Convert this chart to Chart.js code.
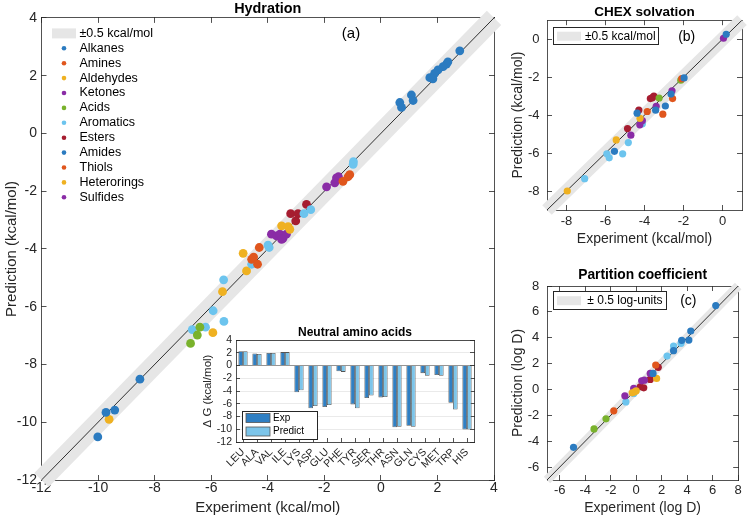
<!DOCTYPE html>
<html>
<head>
<meta charset="utf-8">
<script src="https://cdn.jsdelivr.net/npm/chart.js@4.4.0/dist/chart.umd.min.js"></script>
<style>
    html, body { margin: 0; padding: 0; background: #ffffff; }
    #wrap { position: relative; width: 749px; height: 519px; overflow: hidden; }
    canvas { position: absolute; }
</style>
</head>
<body>
<div id="wrap">
    <canvas id="hydration-chart" width="505" height="519" style="left:0;top:0"></canvas>
    <canvas id="amino-chart" width="290" height="160" style="left:196px;top:322px"></canvas>
    <canvas id="chex-chart" width="244" height="250" style="left:505px;top:0"></canvas>
    <canvas id="partition-chart" width="244" height="254" style="left:505px;top:265px"></canvas>
</div>
<script>
// (a) hydration free energy, kcal/mol : [experiment, prediction]
const hyd_alkanes = [[2.79, 2.86], [2.37, 2.48], [2.32, 2.40], [2.20, 2.31], [2.02, 2.20], [1.90, 2.08], [1.73, 1.93], [1.84, 1.89], [1.08, 1.33], [1.14, 1.14], [0.67, 1.07], [0.73, 0.90]]
const hyd_amines = [[-4.30, -3.95], [-4.57, -4.36], [-4.50, -4.28], [-4.36, -4.53]]
const hyd_aldehydes = [[-3.51, -3.20], [-3.28, -3.23], [-3.22, -3.32]]
const hyd_ketones = [[-3.87, -3.49], [-3.69, -3.55], [-3.57, -3.49], [-3.46, -3.63], [-3.34, -3.49], [-3.51, -3.67]]
const hyd_acids = [[-6.40, -6.71], [-6.49, -6.98], [-6.73, -7.27]]
const hyd_aromatics = [[-0.97, -0.98], [-0.98, -1.07], [-2.48, -2.64], [-2.72, -2.78], [-3.95, -3.95], [-3.99, -3.87], [-4.57, -4.53], [-5.56, -5.07], [-5.93, -6.14], [-5.55, -6.51], [-6.67, -6.79], [-6.20, -6.71]]
const hyd_esters = [[-2.63, -2.46], [-3.19, -2.78], [-2.93, -2.78], [-3.01, -3.03]]
const hyd_amides = [[-8.52, -8.51], [-9.72, -9.66], [-9.41, -9.58], [-10.01, -10.51]]
const hyd_thiols = [[-1.10, -1.43], [-1.16, -1.50], [-1.34, -1.66]]
const hyd_heterorings = [[-4.87, -4.15], [-4.75, -4.76], [-5.60, -5.48], [-5.94, -6.90], [-9.61, -9.90]]
const hyd_sulfides = [[-1.50, -1.50], [-1.57, -1.54], [-1.63, -1.71], [-1.92, -1.85]]
const hyd_labels = ['Alkanes', 'Amines', 'Aldehydes', 'Ketones', 'Acids', 'Aromatics', 'Esters', 'Amides', 'Thiols', 'Heterorings', 'Sulfides']
const hyd_series = [hyd_alkanes, hyd_amines, hyd_aldehydes, hyd_ketones, hyd_acids, hyd_aromatics, hyd_esters, hyd_amides, hyd_thiols, hyd_heterorings, hyd_sulfides]
const hyd_range = [-12, 4]
const hyd_ticks = [-12, -10, -8, -6, -4, -2, 0, 2, 4]

// inset: neutral amino acids, kcal/mol
const amino_labels = ['LEU', 'ALA', 'VAL', 'ILE', 'LYS', 'ASP', 'GLU', 'PHE', 'TYR', 'SER', 'THR', 'ASN', 'GLN', 'CYS', 'MET', 'TRP', 'HIS']
const amino_exp = [2.25, 1.9, 1.95, 2.1, -4.2, -6.7, -6.5, -0.9, -6.1, -5.1, -5.0, -9.7, -9.45, -1.2, -1.5, -5.85, -10.05]
const amino_pred = [2.25, 1.8, 1.95, 2.1, -3.9, -6.35, -6.2, -1.0, -6.7, -4.7, -4.95, -9.6, -9.6, -1.6, -1.6, -6.9, -10.05]
const amino_ticks = [-12, -10, -8, -6, -4, -2, 0, 2, 4]

// (b) CHEX solvation, grouped by marker colour
const chex_blue = [[0.19, 0.26], [-1.97, -2.04], [-2.64, -2.89], [-3.43, -3.74], [-2.93, -3.52], [-4.38, -3.90], [-5.54, -5.91]]
const chex_orange = [[-2.09, -2.08], [-2.56, -3.13], [-3.06, -3.95], [-3.86, -3.81]]
const chex_yellow = [[-4.23, -4.17], [-5.45, -5.31], [-7.96, -8.00]]
const chex_purple = [[0.05, 0.05], [-2.59, -2.72], [-3.40, -3.54], [-4.11, -4.29], [-4.24, -4.51], [-4.70, -5.06]]
const chex_green = [[-2.14, -2.16], [-3.25, -3.10]]
const chex_lightblue = [[-4.11, -4.46], [-4.83, -5.45], [-5.93, -6.04], [-5.81, -6.25], [-5.12, -6.04], [-7.07, -7.35]]
const chex_darkred = [[-3.70, -3.13], [-3.52, -3.00], [-3.60, -3.08], [-4.29, -3.73], [-4.87, -4.71]]
const chex_series = [chex_blue, chex_orange, chex_yellow, chex_purple, chex_green, chex_lightblue, chex_darkred]
const chex_range = [-9, 1]
const chex_ticks = [-8, -6, -4, -2, 0]

// (c) partition coefficient, log D
const part_blue = [[6.24, 6.49], [4.28, 4.52], [4.13, 3.82], [3.57, 3.80], [2.93, 3.00], [1.32, 1.24], [-4.92, -4.47]]
const part_orange = [[1.53, 1.89], [-1.76, -1.65]]
const part_yellow = [[1.60, 0.85], [0.00, -0.10], [-0.13, -0.18], [-0.31, -0.26]]
const part_purple = [[1.10, 1.24], [0.43, 0.67], [0.64, 0.72], [-0.20, 0.08], [-0.89, -0.49]]
const part_green = [[-2.37, -2.27], [-3.31, -3.05]]
const part_lightblue = [[3.52, 3.57], [2.93, 3.36], [2.42, 2.58], [-0.20, -0.31], [-0.81, -0.96]]
const part_darkred = [[1.73, 1.71], [1.10, 0.78], [0.31, 0.21], [0.59, 0.13]]
const part_series = [part_blue, part_orange, part_yellow, part_purple, part_green, part_lightblue, part_darkred]
const part_range = [-7, 8]
const part_ticks = [-6, -4, -2, 0, 2, 4, 6, 8]

const band_half = 0.5

const font_family = '"Liberation Sans", Arial, Helvetica, sans-serif'
const axis_color = '#262626'
const band_color = '#e6e6e6'
const palette = ['#2b7bc0', '#e0561d', '#efb121', '#8a2ca6', '#79b22c', '#6cc4ee', '#a61d30']
const exp_color = '#2f7fc3'
const pred_color = '#7cc5ea'

Chart.defaults.font.family = font_family
Chart.defaults.color = axis_color

const to_points = (pairs) => pairs.map(p => ({x: p[0], y: p[1]}))
const set_ticks = (vals) => (scale) => { scale.ticks = vals.map(v => ({value: v})) }

const band_width = (c) => {
    const sx = c.chart.scales.x
    const sy = c.chart.scales.y
    const dx = Math.abs(sx.getPixelForValue(1) - sx.getPixelForValue(0))
    const dy = Math.abs(sy.getPixelForValue(1) - sy.getPixelForValue(0))
    const w = 2 * band_half * dx * dy / Math.hypot(dx, dy)
    return isFinite(w) ? w : 10
}

const diag_sets = (range, band_label) => [
    {
        label: band_label, legend: 'band', data: to_points([[range[0], range[0]], [range[1], range[1]]]),
        showLine: true, borderColor: band_color, borderWidth: band_width, borderCapStyle: 'butt',
        pointRadius: 0, clip: false, order: 2
    },
    {
        label: 'diag', data: to_points([[range[0], range[0]], [range[1], range[1]]]),
        showLine: true, borderColor: '#000000', borderWidth: 0.8, pointRadius: 0, order: 1
    }
]

const box_axes = (range, tick_vals, cfg) => {
    const edge = (pos, size) => ({
        type: 'linear', position: pos, min: range[0], max: range[1], z: 1,
        afterBuildTicks: set_ticks(tick_vals),
        afterFit: (s) => {
            if (s.isHorizontal()) s.height = size
            else s.width = size
        },
        grid: {drawOnChartArea: false, tickLength: -5, color: axis_color, lineWidth: 0.8},
        border: {color: axis_color, width: 0.8},
        ticks: {display: false}
    })
    const x = edge('bottom', cfg.xh)
    x.ticks = {font: {size: cfg.tick}, padding: cfg.xpad, color: axis_color, maxRotation: 0, autoSkip: false}
    x.title = {display: true, text: cfg.xtitle, color: axis_color, font: {size: cfg.label}, padding: {top: 0, bottom: cfg.xtp}}
    const y = edge('left', cfg.yw)
    y.ticks = {font: {size: cfg.tick}, padding: cfg.ypad, color: axis_color, autoSkip: false}
    y.title = {display: true, text: cfg.ytitle, color: axis_color, font: {size: cfg.label}, padding: {top: cfg.ytp, bottom: 0}}
    return {x: x, y: y, x2: edge('top', 0), y2: edge('right', 0)}
}

// legend drawn inside the plot area, MATLAB style
const legend_box = (id, cfg) => ({
    id: id,
    afterDatasetsDraw: (chart) => {
        const ctx = chart.ctx
        const area = chart.chartArea
        const bx = area.left + cfg.x
        const by = area.top + cfg.y
        ctx.save()
        if (cfg.w) {
            ctx.fillStyle = '#ffffff'
            ctx.fillRect(bx, by, cfg.w, cfg.h)
            ctx.strokeStyle = axis_color
            ctx.lineWidth = 1
            ctx.strokeRect(Math.round(bx) + 0.5, Math.round(by) + 0.5, cfg.w, cfg.h)
        }
        ctx.font = cfg.font + 'px ' + font_family
        ctx.textBaseline = 'middle'
        ctx.textAlign = 'left'
        let row = 0
        chart.data.datasets.forEach(ds => {
            if (!ds.legend) return
            const cy = by + cfg.row0 + row * cfg.dy
            const sx = bx + cfg.sx
            if (ds.legend === 'dot') {
                ctx.fillStyle = ds.backgroundColor
                ctx.beginPath()
                ctx.arc(sx + cfg.sw / 2, cy, 2.3, 0, Math.PI * 2)
                ctx.fill()
            } else if (ds.legend === 'bar') {
                ctx.fillStyle = ds.backgroundColor
                ctx.fillRect(sx, cy - cfg.sh / 2, cfg.sw, cfg.sh)
                ctx.strokeStyle = ds.borderColor
                ctx.lineWidth = 0.8
                ctx.strokeRect(sx, cy - cfg.sh / 2, cfg.sw, cfg.sh)
            } else {
                ctx.fillStyle = ds.borderColor
                ctx.fillRect(sx, cy - cfg.sh / 2, cfg.sw, cfg.sh)
            }
            ctx.fillStyle = '#000000'
            ctx.fillText(ds.label, bx + cfg.tx, cy)
            row++
        })
        if (cfg.tag) {
            ctx.font = cfg.tagFont + 'px ' + font_family
            ctx.textAlign = 'center'
            ctx.fillText(cfg.tag, area.left + cfg.tagX, area.top + cfg.tagY)
        }
        ctx.restore()
    }
})

const title_opts = (text, size, top, bottom) => ({
    display: true, text: text, color: '#000000', fullSize: false,
    font: {size: size, weight: 'bold', lineHeight: 1},
    padding: {top: top, bottom: bottom}
})

const scatter_chart = (canvas_id, sets, range, tick_vals, cfg, title, legend) => {
    return new Chart(document.getElementById(canvas_id), {
        type: 'scatter',
        data: {datasets: sets},
        options: {
            responsive: false,
            animation: false,
            events: [],
            layout: {padding: {left: 0, right: cfg.right, top: 0, bottom: 0}},
            scales: box_axes(range, tick_vals, cfg),
            plugins: {
                legend: {display: false},
                tooltip: {enabled: false},
                title: title
            }
        },
        plugins: [legend]
    })
}

// (a) Hydration
const hyd_sets = diag_sets(hyd_range, '\u00b10.5 kcal/mol').concat(hyd_labels.map((name, i) => ({
    label: name, legend: 'dot', data: to_points(hyd_series[i]),
    backgroundColor: palette[i % palette.length], borderWidth: 0, pointRadius: 4.4, order: 0
})))
scatter_chart('hydration-chart', hyd_sets, hyd_range, hyd_ticks,
    {xh: 39, yw: 41.5, tick: 14, label: 15, xpad: 5, ypad: 9.5, xtp: 2, ytp: 3, right: 11,
        xtitle: 'Experiment (kcal/mol)', ytitle: 'Prediction (kcal/mol)'},
    title_opts('Hydration', 14.4, 0, 1.6),
    legend_box('hyd-legend', {x: 10.5, y: 8, sx: 0, sw: 24, sh: 10, row0: 7.5, dy: 14.9, tx: 27.5, font: 12.5,
        tag: '(a)', tagFont: 15, tagX: 309.5, tagY: 15.5}))

// (b) CHEX solvation
const chex_sets = diag_sets(chex_range, '\u00b10.5 kcal/mol').concat(chex_series.map((s, i) => ({
    label: 'g' + i, data: to_points(s), backgroundColor: palette[i], borderWidth: 0, pointRadius: 3.6, order: 0
})))
scatter_chart('chex-chart', chex_sets, chex_range, chex_ticks,
    {xh: 40, yw: 42, tick: 13, label: 14, xpad: 8.7, ypad: 12.4, xtp: 2.6, ytp: 4.6, right: 7,
        xtitle: 'Experiment (kcal/mol)', ytitle: 'Prediction (kcal/mol)'},
    title_opts('CHEX solvation', 13.5, 0, 1.5),
    legend_box('chex-legend', {x: 6, y: 7, w: 105, h: 17, sx: 4, sw: 24, sh: 9, row0: 9, dy: 0, tx: 32, font: 12,
        tag: '(b)', tagFont: 14, tagX: 139.7, tagY: 17.2}))

// (c) Partition coefficient
const part_sets = diag_sets(part_range, '\u00b1 0.5 log-units').concat(part_series.map((s, i) => ({
    label: 'g' + i, data: to_points(s), backgroundColor: palette[i], borderWidth: 0, pointRadius: 3.6, order: 0
})))
scatter_chart('partition-chart', part_sets, part_range, part_ticks,
    {xh: 39, yw: 42, tick: 13, label: 14, xpad: 7.2, ypad: 12.7, xtp: 2.6, ytp: 4.9, right: 7,
        xtitle: 'Experiment (log D)', ytitle: 'Prediction (log D)'},
    title_opts('Partition coefficient', 13.8, 3.2, 4),
    legend_box('part-legend', {x: 6, y: 5, w: 113, h: 18, sx: 4, sw: 24, sh: 9, row0: 9.7, dy: 0, tx: 34.3, font: 12,
        tag: '(c)', tagFont: 14, tagX: 141.3, tagY: 15.3}))

// inset bar chart
new Chart(document.getElementById('amino-chart'), {
    type: 'bar',
    data: {
        labels: amino_labels,
        datasets: [
            {label: 'Exp', legend: 'bar', data: amino_exp, backgroundColor: exp_color, borderColor: '#555555', borderWidth: 0.8},
            {label: 'Predict', legend: 'bar', data: amino_pred, backgroundColor: pred_color, borderColor: '#555555', borderWidth: 0.8}
        ]
    },
    options: {
        responsive: false,
        animation: false,
        events: [],
        categoryPercentage: 0.66,
        barPercentage: 1.0,
        layout: {padding: {left: 0, right: 12, top: 0, bottom: 0}},
        scales: {
            x: {
                position: 'bottom',
                afterFit: (s) => { s.height = 40 },
                grid: {offset: false, drawOnChartArea: false, tickLength: -4, color: axis_color, lineWidth: 0.8},
                border: {color: axis_color, width: 0.8},
                ticks: {font: {size: 10.5}, color: axis_color, maxRotation: 45, minRotation: 45, padding: 8, autoSkip: false}
            },
            x2: {
                type: 'linear', position: 'top',
                afterFit: (s) => { s.height = 0 },
                grid: {display: false},
                border: {color: axis_color, width: 0.8},
                ticks: {display: false}
            },
            y: {
                position: 'left', min: -12, max: 4,
                afterBuildTicks: set_ticks(amino_ticks),
                afterFit: (s) => { s.width = 40 },
                grid: {
                    color: (c) => c.tick && c.tick.value === 0 ? '#7a7a7a' : '#e4e4e4',
                    tickColor: axis_color, tickLength: -4, lineWidth: 0.8
                },
                border: {color: axis_color, width: 0.8},
                ticks: {font: {size: 10.5}, color: axis_color, padding: 8, autoSkip: false},
                title: {display: true, text: '\u0394 G (kcal/mol)', color: axis_color, font: {size: 11.5}, padding: {top: 5.1, bottom: 0}}
            },
            y2: {
                type: 'linear', position: 'right', min: -12, max: 4,
                afterBuildTicks: set_ticks(amino_ticks),
                afterFit: (s) => { s.width = 0 },
                grid: {drawOnChartArea: false, tickLength: -4, color: axis_color, lineWidth: 0.8},
                border: {color: axis_color, width: 0.8},
                ticks: {display: false}
            }
        },
        plugins: {
            legend: {display: false},
            tooltip: {enabled: false},
            title: title_opts('Neutral amino acids', 12, 4.3, 1.7)
        }
    },
    plugins: [legend_box('amino-legend', {x: 6, y: 71, w: 75, h: 28, sx: 4, sw: 24, sh: 9, row0: 7, dy: 13.5, tx: 31, font: 10})]
})
</script>
</body>
</html>
